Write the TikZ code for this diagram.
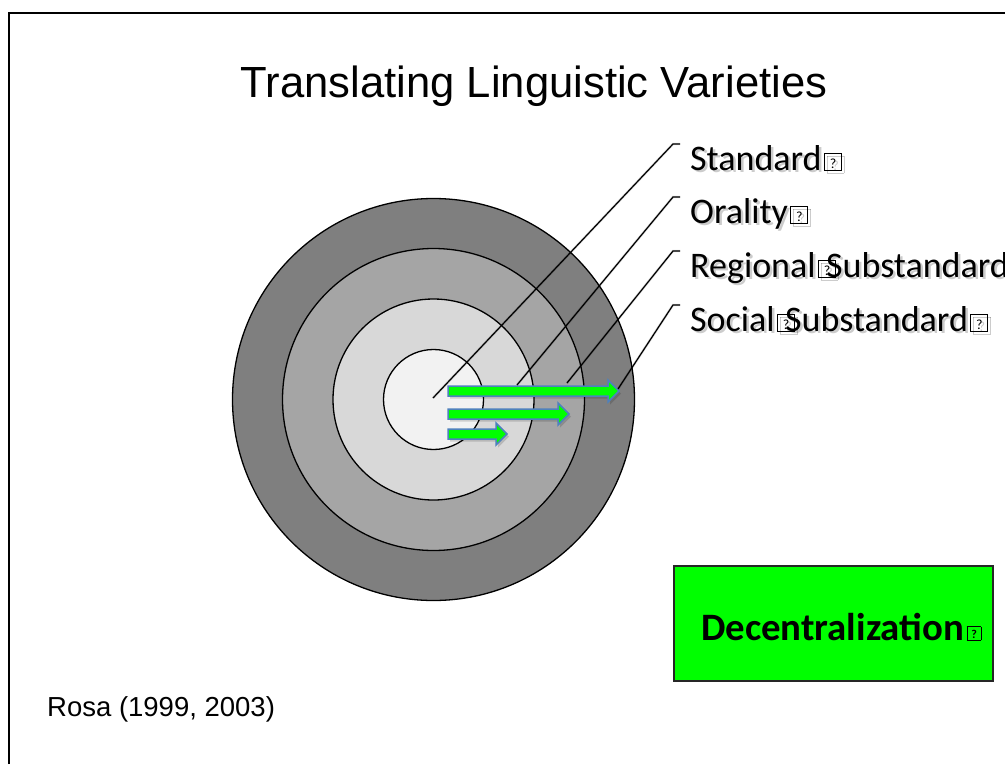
\documentclass[tikz,border=0pt]{standalone}
\usepackage{fontspec}
\setmainfont{Carlito}
\newfontfamily\arialfont{Liberation Sans}

\definecolor{ringOuter}{HTML}{7F7F7F}
\definecolor{ringSecond}{HTML}{A5A5A5}
\definecolor{ringThird}{HTML}{D8D8D8}
\definecolor{ringInner}{HTML}{F2F2F2}
\definecolor{arrowgreen}{HTML}{00FF00}
\definecolor{arrowblue}{HTML}{4F81BD}

% missing-glyph box drawn in place of an unprintable character
% #1 box size, #2 advance after the box start, #3 size of the question mark
\newcommand\tofu[3]{\hspace{2.5pt}\rlap{\fboxsep=0pt\fboxrule=0.9pt\fbox{\makebox[#1][c]{\rule{0pt}{#1}\raisebox{2pt}{\fontsize{#3}{#3}\selectfont ?}}}}\hspace{#2}}

\tikzset{
  ring/.style={draw=black, line width=1.3pt},
  callout/.style={draw=black, line width=1.2pt, line join=miter},
  calloutshadow/.style={draw=black, line width=2.4pt, opacity=0.16},
  lbl/.style={anchor=base west, inner sep=0pt, font=\fontsize{36}{40}\selectfont},
  lblshadow/.style={lbl, text=black, text opacity=0.2},
  garrow/.style={fill=arrowgreen, draw=arrowblue, line width=1.5pt, line join=miter},
  garrowshadow/.style={fill=black, opacity=0.15},
}

\begin{document}
\begin{tikzpicture}[x=1pt, y=-1pt]
\useasboundingbox (0,0) rectangle (1005,764);
\fill[white] (0,0) rectangle (1005,764);

% slide frame
\draw[line width=2pt] (8.5,764) -- (8.5,12.5) -- (1010,12.5);

% title
\node[anchor=base, inner sep=0pt, font=\arialfont\fontsize{43.6}{48}\selectfont] (title) at (534,97) {Translating Linguistic Varieties};

% concentric rings
\coordinate (ctr) at (433.5,399.5);
\filldraw[ring, fill=ringOuter]  (ctr) circle[radius=201pt];
\filldraw[ring, fill=ringSecond] (ctr) circle[radius=151pt];
\filldraw[ring, fill=ringThird]  (ctr) circle[radius=100.5pt];
\filldraw[ring, fill=ringInner]  (ctr) circle[radius=50pt];

% callout anchor points
\coordinate (cStd)  at (433,398);
\coordinate (cOral) at (517,385);
\coordinate (cReg)  at (567,383);
\coordinate (cSoc)  at (618,389);
\coordinate (kStd)  at (673,144);  \coordinate (eStd)  at (680,144);
\coordinate (kOral) at (673,197);  \coordinate (eOral) at (680,197);
\coordinate (kReg)  at (673,251);  \coordinate (eReg)  at (680,251);
\coordinate (kSoc)  at (673,305);  \coordinate (eSoc)  at (680,305);

% callout shadows
\begin{scope}[shift={(2.5,2.5)}]
  \draw[calloutshadow] (cStd) -- (kStd) -- (eStd);
  \draw[calloutshadow] (cOral) -- (kOral) -- (eOral);
  \draw[calloutshadow] (cReg) -- (kReg) -- (eReg);
  \draw[calloutshadow] (cSoc) -- (kSoc) -- (eSoc);
\end{scope}

% green arrows (shadow first)
\begin{scope}[shift={(2,2.5)}]
  \fill[garrowshadow] (448,386) -- (608,386) -- (608,380) -- (619,391) -- (608,402) -- (608,396) -- (448,396) -- cycle;
  \fill[garrowshadow] (448,409) -- (558,409) -- (558,403) -- (569,414) -- (558,425) -- (558,419) -- (448,419) -- cycle;
  \fill[garrowshadow] (448,429) -- (496,429) -- (496,423) -- (507,434) -- (496,445) -- (496,439) -- (448,439) -- cycle;
\end{scope}
\draw[garrow] (448,386) -- (608,386) -- (608,380) -- (619,391) -- (608,402) -- (608,396) -- (448,396) -- cycle;
\draw[garrow] (448,409) -- (558,409) -- (558,403) -- (569,414) -- (558,425) -- (558,419) -- (448,419) -- cycle;
\draw[garrow] (448,429) -- (496,429) -- (496,423) -- (507,434) -- (496,445) -- (496,439) -- (448,439) -- cycle;

% callout lines
\draw[callout] (cStd) -- (kStd) -- (eStd);
\draw[callout] (cOral) -- (kOral) -- (eOral);
\draw[callout] (cReg) -- (kReg) -- (eReg);
\draw[callout] (cSoc) -- (kSoc) -- (eSoc);

% label shadows
\node[lblshadow] (stdS)  at (692.5,172.5) {Standard\tofu{16pt}{17pt}{14}};
\node[lblshadow] (oralS) at (692.5,225.5) {Orality\tofu{16pt}{17pt}{14}};
\node[lblshadow] (regS)  at (692.5,279.5) {Regional\tofu{16pt}{8pt}{14}Substandard\tofu{16pt}{17pt}{14}};
\node[lblshadow] (socS)  at (692.5,333.5) {Social\tofu{16pt}{8pt}{14}Substandard\tofu{16pt}{17pt}{14}};

% labels
\node[lbl] (std)  at (690,170) {Standard\tofu{16pt}{17pt}{14}};
\node[lbl] (oral) at (690,223) {Orality\tofu{16pt}{17pt}{14}};
\node[lbl] (reg)  at (690,277) {Regional\tofu{16pt}{8pt}{14}Substandard\tofu{16pt}{17pt}{14}};
\node[lbl] (soc)  at (690,331) {Social\tofu{16pt}{8pt}{14}Substandard\tofu{16pt}{17pt}{14}};

% decentralization box
\node[draw=black!85, line width=1.5pt, fill=arrowgreen, minimum width=319pt, minimum height=115pt, inner sep=0pt] (dbox) at (833.5,623.5) {};
\node[anchor=base west, inner sep=0pt, font=\bfseries\fontsize{38.8}{42}\selectfont] (dtext) at (701,640) {Decentralization\tofu{13pt}{14pt}{12}};

% reference
\node[anchor=base west, inner sep=0pt, font=\arialfont\fontsize{27.5}{30}\selectfont] (rosa) at (47,716) {Rosa (1999, 2003)};
\end{tikzpicture}
\end{document}
